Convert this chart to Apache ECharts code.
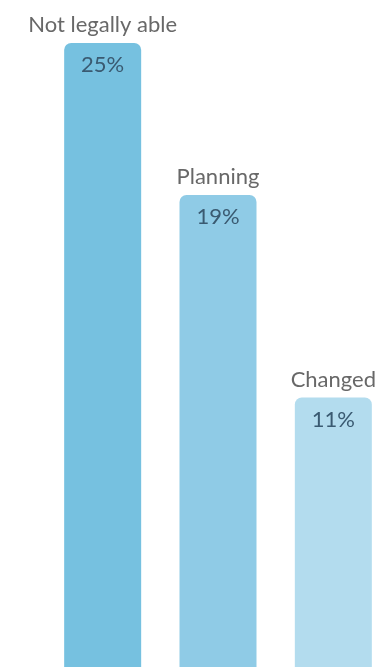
<!DOCTYPE html>
<html>
<head>
<meta charset="utf-8">
<style>
html,body{margin:0;padding:0;background:#fff;}
#chart{width:375px;height:667px;}
</style>
<script src="https://cdn.jsdelivr.net/npm/echarts@6/dist/echarts.min.js"></script>
</head>
<body>
<div id="chart"></div>
<script>
var categories = ['Not legally able', 'Planning', 'Changed'];
var values = [25, 19, 11];
var colors = ['#76c1e0', '#8fcbe6', '#b3dcee'];

var chart = echarts.init(document.getElementById('chart'));
chart.setOption({
  animation: false,
  grid: {left: 45, width: 346, top: 43, height: 633, outerBoundsMode: 'none', containLabel: false},
  xAxis: {type: 'category', data: categories, show: false},
  yAxis: {type: 'value', min: 0, max: 25, show: false},
  series: [
    {
      type: 'bar',
      barWidth: 77,
      data: values.map(function (v, i) {
        return {value: v, itemStyle: {color: colors[i]}};
      }),
      itemStyle: {borderRadius: [7, 7, 0, 0]},
      label: {
        show: true, position: 'insideTop', distance: 11,
        formatter: '{c}%', fontFamily: 'Lato', fontSize: 22, color: '#3a5a71'
      }
    },
    {
      type: 'bar',
      barWidth: 77,
      barGap: '-100%',
      silent: true,
      data: values,
      itemStyle: {color: 'rgba(0,0,0,0)'},
      label: {
        show: true, position: 'top', distance: 7,
        formatter: '{b}', fontFamily: 'Lato', fontSize: 22, color: '#686868'
      }
    }
  ]
});
</script>
</body>
</html>
